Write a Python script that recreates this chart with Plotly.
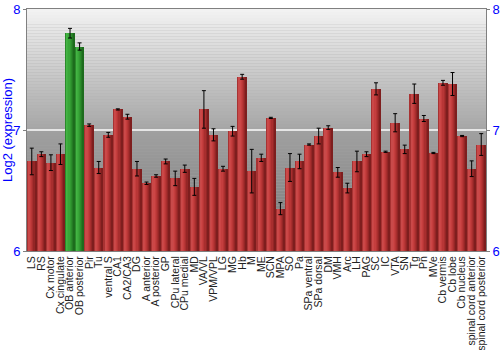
import plotly.graph_objects as go

categories = ["LS", "RS", "Cx motor", "Cx cingulate", "OB anterior", "OB posterior", "Pir", "Tu",
              "ventral S", "CA1", "CA2/CA3", "DG", "A anterior", "A posterior", "GP", "CPu lateral",
              "CPu medial", "MD", "VA/VL", "VPM/VPL", "LG", "MG", "Hb", "M", "ME", "SCN", "MPA", "SO",
              "Pa", "SPa ventral", "SPa dorsal", "DM", "VMH", "Arc", "LH", "PAG", "SC", "IC", "VTA", "SN",
              "Tg", "Pn", "MVe", "Cb vermis", "Cb lobe", "Cb nucleus", "spinal cord anterior",
              "spinal cord posterior"]
values = [6.74, 6.80, 6.73, 6.80, 7.80, 7.69, 7.04, 6.69,
          6.96, 7.17, 7.11, 6.68, 6.56, 6.62, 6.74, 6.60,
          6.68, 6.53, 7.17, 6.96, 6.68, 6.99, 7.44, 6.66, 6.77, 7.10, 6.35, 6.69,
          6.74, 6.88, 6.95, 7.02, 6.65, 6.52, 6.74, 6.80, 7.34, 6.82, 7.06, 6.84,
          7.30, 7.095, 6.81, 7.39, 7.38, 6.95, 6.68, 6.88]
errors = [0.11, 0.02, 0.065, 0.085, 0.04, 0.03, 0.01, 0.05,
          0.02, 0.005, 0.02, 0.06, 0.01, 0.01, 0.02, 0.06,
          0.03, 0.07, 0.155, 0.05, 0.02, 0.04, 0.02, 0.18, 0.03, 0.005, 0.05, 0.115,
          0.06, 0.005, 0.065, 0.015, 0.04, 0.04, 0.085, 0.02, 0.05, 0.005, 0.075, 0.035,
          0.08, 0.025, 0.005, 0.02, 0.095, 0.005, 0.065, 0.09]
highlight = ["OB anterior", "OB posterior"]
y_ticks = [6, 7, 8]

red_shades = ["#a83232", "#c84a4a", "#cc4646", "#c43e3e", "#b83636", "#a82e2e", "#942626", "#7e1e1e"]
green_shades = ["#2a8a2a", "#44b444", "#3eae3e", "#38a638", "#329a32", "#2b8c2b", "#247c24", "#1d6c1d"]

fig = go.Figure()

n = len(red_shades)
total_w = 0.9
sw = total_w / n
for k in range(n):
    cols = [green_shades[k] if c in highlight else red_shades[k] for c in categories]
    fig.add_trace(go.Bar(
        x=categories, y=values, width=sw * 1.02, offset=-total_w / 2 + k * sw,
        marker=dict(color=cols, line=dict(width=0)), showlegend=False, hoverinfo="skip"))

fig.add_trace(go.Scatter(
    x=categories, y=values, mode="markers", marker=dict(size=1, opacity=0),
    error_y=dict(type="data", array=errors, visible=True, color="#000000", thickness=1, width=2),
    showlegend=False, hoverinfo="skip"))

fig.add_trace(go.Scatter(x=[categories[0]], y=[7], yaxis="y2", mode="markers",
                         marker=dict(opacity=0), showlegend=False, hoverinfo="skip"))

# background gradient bands
def lerp(c1, c2, t):
    return tuple(round(a + (b - a) * t) for a, b in zip(c1, c2))

shapes = []
nb = 40
top_c, mid_c = (242, 242, 242), (166, 166, 166)
low_c, bot_c = (160, 160, 160), (120, 120, 120)
for i in range(nb):
    t = i / (nb - 1)
    y0 = 8 - i / nb
    y1 = 8 - (i + 1) / nb
    c = lerp(top_c, mid_c, t)
    shapes.append(dict(type="rect", xref="paper", yref="y", x0=0, x1=1, y0=y1, y1=y0,
                       fillcolor="rgb(%d,%d,%d)" % c, line=dict(width=0), layer="below"))
for i in range(nb):
    t = i / (nb - 1)
    y0 = 7 - i / nb
    y1 = 7 - (i + 1) / nb
    c = lerp(low_c, bot_c, t)
    shapes.append(dict(type="rect", xref="paper", yref="y", x0=0, x1=1, y0=y1, y1=y0,
                       fillcolor="rgb(%d,%d,%d)" % c, line=dict(width=0), layer="below"))

fig.update_layout(
    width=500, height=350,
    margin=dict(l=27, r=14, t=9, b=99),
    paper_bgcolor="white", plot_bgcolor="#aaaaaa",
    barmode="overlay", bargap=0,
    shapes=shapes,
    font=dict(family="Arial, Liberation Sans, sans-serif"),
    xaxis=dict(type="category", range=[-0.5, len(categories) - 0.5], tickangle=-90,
               tickmode="array", tickvals=categories, ticktext=categories,
               tickfont=dict(size=10.5, color="#222222"), ticks="", showgrid=False,
               showline=True, linecolor="#808080", linewidth=1, mirror=True, automargin=False),
    yaxis=dict(range=[6, 8], tickvals=y_ticks, ticktext=[str(v) for v in y_ticks],
               tickfont=dict(size=13, color="#0000ff"), ticks="outside", ticklen=3,
               tickcolor="#808080", showline=True, linecolor="#808080", linewidth=1,
               showgrid=True, gridcolor="#e6e6e6", gridwidth=1.5, zeroline=False,
               title=dict(text="Log2 (expression)", font=dict(size=13, color="#0000ff"), standoff=6),
               automargin=False),
    yaxis2=dict(range=[6, 8], tickvals=y_ticks, ticktext=[str(v) for v in y_ticks],
                overlaying="y", side="right",
                tickfont=dict(size=13, color="#0000ff"), ticks="outside", ticklen=3,
                tickcolor="#808080", showline=True, linecolor="#808080", linewidth=1,
                showgrid=False, zeroline=False, automargin=False),
)

fig.write_html("out.html")
